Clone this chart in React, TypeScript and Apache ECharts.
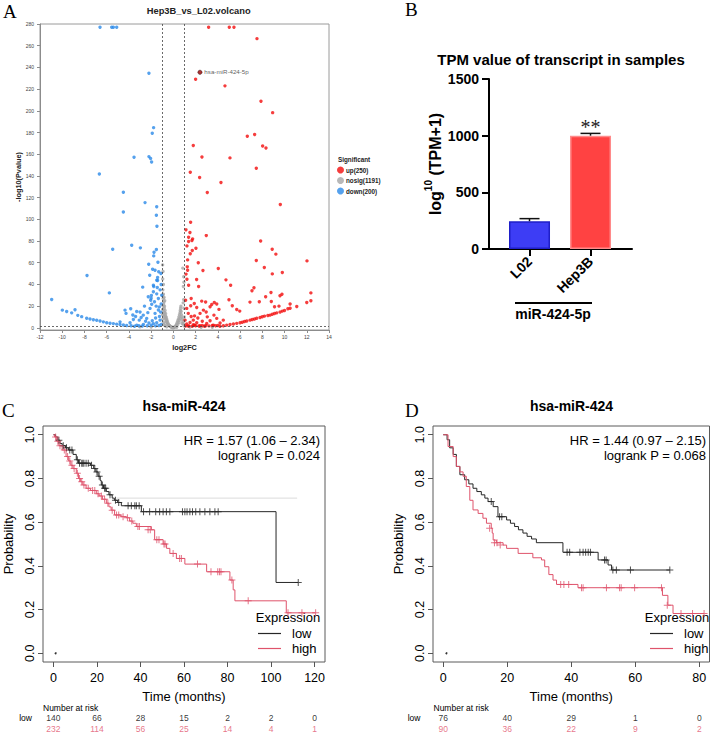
import React, { useEffect, useRef } from 'react';
import * as echarts from 'echarts';

const SANS = '"Liberation Sans", Arial, Helvetica, sans-serif';
const SERIF = '"Liberation Serif", "Times New Roman", serif';

// ---------- Panel A: volcano (log2FC vs -log10 P) ----------
const upCount = 250;
const nosigCount = 1191;
const downCount = 200;

const upPoints: number[][] = [
  [3.17, 277], [5.03, 277], [5.45, 277], [7.52, 266.5], [2.0, 229], [4.64, 223], [7.88, 208.8], [8.93, 198.3],
  [6.65, 176.5], [7.31, 178.1], [1.79, 168], [8.03, 167.6], [8.33, 165.8], [2.57, 157.5], [5.09, 156.6], [7.46, 147.1],
  [1.52, 143.4], [2.36, 138.5], [4.28, 133.9], [3.05, 124.7], [9.62, 113.6],
  [1.55, 97.3], [1.13, 90.3], [1.49, 87.8], [1.37, 83.5], [1.73, 82], [1.67, 80.4], [1.37, 79.5], [2.96, 85],
  [1.22, 75.5], [2.03, 73.4], [1.7, 71.2], [1.52, 68.2], [1.28, 62.6], [2.24, 59.9], [1.25, 56.2], [1.14, 49.5],
  [1.28, 53.1], [2.66, 52.8], [4.04, 54.7], [7.85, 80.1], [7.46, 62], [8.89, 72.5], [9.22, 67.9], [12.02, 61.7],
  [8.18, 55.6], [8.9, 49.7], [9.8, 51], [4.73, 44.2], [5.15, 39.3], [2.09, 44.5], [2.27, 38.1], [1.37, 39.3], [1.22, 44.8],
  [7.07, 34.1], [7.25, 36.9], [6.89, 23.7], [7.73, 24], [8.3, 28.6], [8.78, 32.6], [8.81, 24.3], [9.59, 29.5],
  [9.77, 31], [12.37, 32.2], [12.37, 25], [12.0, 23.4], [11.1, 19.7], [5.0, 25.8], [5.97, 15.4], [5.7, 16.9],
  [5.3, 20.3], [3.68, 23.4], [3.45, 21.5], [2.55, 24.6], [1.88, 22.5], [1.56, 20.3], [2.1, 18.8], [1.2, 17.9],
  [1.34, 13.3], [2.4, 13.3], [2.7, 16.3], [3.05, 10.1], [3.65, 11.7], [3.9, 8.7], [4.49, 7.1], [1.79, 7.1],
  [1.05, 7.1], [2.1, 4.6], [3.0, 4.0], [3.6, 2.5], [1.34, 1.6], [2.4, 1.9], [1.1, 25.5], [1.6, 27], [2.9, 23.8],
  [3.9, 22], [4.1, 17], [1.9, 11], [2.2, 9], [2.6, 6], [1.5, 5], [1.2, 3.5], [1.8, 2.8], [2.9, 2], [3.3, 6.5],
  [4.2, 4.5], [1.6, 10.5], [2.95, 14.6], [3.3, 19.5], [9.1, 19.5], [9.5, 20], [10.5, 22],
  [4.2, 1.5], [4.5, 2.0], [4.8, 2.5], [5.1, 3.0], [5.4, 3.6], [5.7, 4.1], [6.0, 4.6], [6.2, 5.2], [6.4, 5.8],
  [6.6, 6.3], [6.9, 7.1], [7.1, 7.6], [7.3, 8.2], [7.5, 8.8], [7.8, 9.6], [8.0, 10.2], [8.2, 10.8], [8.5, 11.4],
  [8.7, 11.7], [8.9, 12.5], [9.1, 13.2], [9.3, 13.8], [9.6, 14.5], [9.8, 15.4], [10.0, 16.0], [10.3, 17.5], [10.5, 18.0],
  [1.1, 1.6], [1.4, 1.8], [1.7, 1.5], [2.0, 2.0], [2.3, 1.7], [2.6, 2.2], [3.2, 1.8], [3.5, 2.1], [3.8, 1.9],
  [4.0, 2.2], [2.8, 1.5], [1.9, 2.4],
];

const downPoints: number[][] = [
  [-6.6, 277], [-5.55, 277], [-5.4, 277], [-5.1, 277], [-2.2, 234.6], [-1.78, 184.5], [-1.9, 179.3], [-3.54, 157.2],
  [-2.2, 157.8], [-2.05, 156], [-1.96, 152.9], [-6.66, 141.8], [-4.5, 125], [-2.55, 115.4], [-4.5, 106.8],
  [-1.5, 111.5], [-1.53, 103.8], [-1.48, 93.6],
  [-5.46, 72.5], [-3.75, 76.1], [-2.97, 73.7], [-1.53, 72.2], [-1.74, 69.7], [-1.77, 66.3], [-1.39, 60.5],
  [-2.22, 58.6], [-1.87, 54], [-2.13, 48.5], [-1.42, 46.4], [-7.77, 48.2], [-1.12, 50], [-1.42, 43.6],
  [-5.76, 32.2], [-10.95, 26.1], [-2.76, 37.5], [-1.98, 29.8], [-1.77, 38.1], [-2.0, 27.3], [-1.65, 53.1],
  [-1.32, 51.6], [-1.5, 43.9], [-1.8, 39.3], [-1.45, 37.2],
  [-4.35, 16.3], [-4.26, 13.3], [-3.84, 17.5], [-3.3, 15.1], [-3.0, 14.5], [-2.71, 11.7], [-2.26, 28.6],
  [-2.04, 25.5], [-1.95, 21.8], [-1.8, 33.2], [-1.5, 31.3], [-1.35, 27], [-2.1, 17.9], [-1.65, 13.3],
  [-1.27, 19.3], [-2.4, 8.7], [-3.07, 7.1], [-3.6, 7.7], [-3.9, 4.6], [-4.8, 5.5], [-1.5, 4.6], [-1.2, 7.1],
  [-1.8, 3.7], [-2.7, 3.1], [-3.3, 2.5], [-1.1, 22], [-1.25, 10.5], [-1.6, 9], [-1.9, 6.5], [-2.2, 4.5],
  [-2.5, 6], [-2.9, 9.5], [-3.4, 10.5], [-3.65, 11.8], [-1.15, 14.5], [-1.35, 16.5], [-1.55, 20], [-1.7, 24],
  [-1.1, 3.2], [-1.3, 2.2], [-1.6, 1.8], [-2.0, 2.3], [-2.35, 1.9], [-2.8, 1.6], [-3.1, 1.9], [-3.5, 1.5],
  [-3.8, 2.0], [-1.05, 30], [-1.2, 35], [-1.1, 40], [-2.3, 14], [-2.6, 20],
  [-4.2, 2.2], [-4.5, 2.6], [-4.8, 3.0], [-5.1, 3.4], [-5.4, 3.9], [-5.7, 4.3], [-6.0, 4.7], [-6.3, 5.5],
  [-6.6, 6.3], [-6.9, 6.9], [-7.2, 7.4], [-7.5, 8.1], [-7.8, 8.8], [-8.25, 10.3], [-8.6, 11.5], [-8.85, 16.6],
  [-9.15, 13.8], [-9.6, 15], [-9.99, 16.3],
];

const nosigPoints: number[][] = [
  [-0.95, 35], [-0.9, 31], [-0.92, 27], [-0.85, 24], [-0.88, 22], [-0.8, 20], [-0.82, 18], [-0.75, 16],
  [-0.78, 14], [-0.7, 13], [-0.72, 11], [-0.65, 10], [-0.68, 9], [-0.6, 8], [-0.62, 7], [-0.55, 6], [-0.58, 5],
  [-0.5, 4.5], [-0.52, 3.5], [-0.45, 3], [-0.4, 2.5], [-0.35, 2], [-0.3, 1.5], [-0.25, 1.2], [-0.2, 0.8],
  [-0.15, 0.5], [-0.1, 0.3], [-0.97, 30], [-0.93, 20], [-0.96, 17], [-0.9, 15], [-0.86, 12], [-0.8, 10],
  [-0.74, 8], [-0.66, 5.5], [-0.98, 12], [-0.95, 8], [-0.9, 5], [-0.85, 3], [-0.75, 2], [-0.6, 1],
  [-0.96, 45], [-0.93, 52], [-0.97, 58], [-0.9, 40], [-0.84, 28], [-0.78, 25],
  [0.1, 0.5], [0.15, 1], [0.2, 1.5], [0.25, 2.5], [0.3, 3.5], [0.35, 5], [0.4, 6.5], [0.45, 8], [0.5, 10],
  [0.55, 12], [0.6, 14], [0.62, 16], [0.65, 18], [0.7, 15], [0.72, 12], [0.75, 10], [0.8, 8], [0.85, 6],
  [0.9, 4], [0.95, 2], [0.68, 20], [0.6, 9], [0.5, 5], [0.4, 3], [0.55, 7], [0.92, 26], [0.88, 23],
  [0.95, 42], [0.9, 38], [0.93, 47], [0.85, 55], [0.95, 18], [0.98, 10], [0.78, 4], [0.3, 0.5], [0.05, 0.2],
  [0.0, 0.3], [-0.05, 0.1], [1.5, 0.8], [2.5, 0.6], [-2.0, 0.7], [-3.0, 0.9], [3.5, 0.5],
];

const highlightGene = { name: 'hsa-miR-424-5p', log2fc: 2.39, logp: 235.5 };
const volcanoYTicks = [0, 20, 40, 60, 80, 100, 120, 140, 160, 180, 200, 220, 240, 260, 280];
const fcCutoffs = [-1, 1];
const pCutoff = 1.3;

// ---------- Panel B: TPM bars ----------
const cellLines = ['L02', 'Hep3B'];
const tpmMeans = [245, 1000];
const tpmErrTop = [268, 1020];
const sigMarks = ['', '**'];
const barFill = ['#3d3df5', '#ff4242'];
const barEdge = ['#1f1fc8', '#ff8a8a'];

// ---------- Panels C & D: Kaplan-Meier ----------
const kmLowC: number[][] = [
  [0, 1.0], [1, 0.99], [2, 0.975], [3, 0.96], [4, 0.95], [5.5, 0.94], [7, 0.93], [9, 0.91], [10.5, 0.885],
  [11.5, 0.87], [17, 0.86], [18.5, 0.845], [19.5, 0.83], [20.5, 0.81], [21.5, 0.79], [22, 0.77], [23, 0.755],
  [24.3, 0.74], [25.5, 0.725], [27, 0.71], [28, 0.7], [29.5, 0.69], [31.2, 0.675], [40.4, 0.648],
  [102.3, 0.324], [112.5, 0.324],
];
const kmLowCensC: number[][] = [
  [2.5, 0.975], [4.5, 0.95], [6, 0.94], [7.5, 0.93], [8.5, 0.93], [11, 0.885], [12, 0.87], [13, 0.87],
  [13.5, 0.87], [14, 0.87], [15, 0.87], [16, 0.87], [17.5, 0.86], [19, 0.845], [20, 0.83], [21, 0.81],
  [22.5, 0.77], [23.5, 0.755], [24, 0.755], [26, 0.725], [28.5, 0.7], [30, 0.69], [34.3, 0.675], [35.8, 0.675],
  [37.4, 0.675], [38.1, 0.675], [39.4, 0.675], [41.4, 0.648], [44.2, 0.648], [47, 0.648], [48.8, 0.648],
  [50.4, 0.648], [51.9, 0.648], [53.5, 0.648], [59.3, 0.648], [60.4, 0.648], [61.4, 0.648], [62.7, 0.648],
  [63.9, 0.648], [65.4, 0.648], [67.3, 0.648], [69.6, 0.648], [71.9, 0.648], [74.2, 0.648], [75.7, 0.648],
  [112.5, 0.324],
];
const kmHighC: number[][] = [
  [0, 1.0], [0.5, 0.99], [1.5, 0.97], [2.5, 0.95], [4, 0.93], [5.8, 0.9], [7, 0.88], [8, 0.86], [9, 0.845],
  [10.5, 0.824], [11.5, 0.8], [12.5, 0.785], [13.5, 0.77], [15, 0.755], [17, 0.745], [19.7, 0.73], [21, 0.72],
  [22.5, 0.705], [24.3, 0.687], [25.5, 0.67], [26.5, 0.655], [28.1, 0.633], [31, 0.625], [33.5, 0.62],
  [35, 0.605], [36.5, 0.595], [38.1, 0.58], [45, 0.565], [46.5, 0.52], [50.4, 0.5], [52, 0.48], [53.5, 0.457],
  [56.5, 0.434], [60.4, 0.408], [70.4, 0.373], [81.1, 0.335], [82.6, 0.29], [83.4, 0.24], [107, 0.185],
  [120.5, 0.185],
];
const kmHighCensC: number[][] = [
  [1, 0.99], [2, 0.97], [3, 0.95], [5, 0.93], [6.5, 0.9], [7.5, 0.88], [8.5, 0.86], [9.5, 0.845], [11, 0.824],
  [12, 0.8], [13, 0.785], [14, 0.77], [16, 0.755], [18, 0.745], [19, 0.745], [20.5, 0.73], [22, 0.72],
  [23.5, 0.705], [25, 0.687], [27, 0.655], [29, 0.633], [30, 0.633], [32, 0.625], [34, 0.62], [36, 0.605],
  [38.8, 0.58], [39.5, 0.58], [43.5, 0.565], [44.5, 0.565], [47.5, 0.52], [48.5, 0.52], [50.8, 0.5], [51.3, 0.5],
  [55, 0.457], [58, 0.434], [58.8, 0.434], [66.2, 0.408], [72.4, 0.373], [75.5, 0.373], [76.3, 0.373],
  [77, 0.373], [82, 0.335], [89.5, 0.24], [107.8, 0.185], [114.2, 0.185], [120.5, 0.185],
];
const faintLineC: number[][] = [[29, 0.71], [112, 0.71]];

const kmLowD: number[][] = [
  [0, 1.0], [1.2, 0.977], [2, 0.94], [3.1, 0.91], [4.1, 0.855], [5.2, 0.817], [6.7, 0.794], [8, 0.775],
  [9.3, 0.755], [10.5, 0.74], [11.9, 0.725], [13, 0.71], [14, 0.694], [15.6, 0.671], [17.1, 0.625], [19.8, 0.61],
  [21, 0.595], [22.3, 0.58], [23.5, 0.565], [24.9, 0.55], [26.2, 0.535], [27.6, 0.523], [29.1, 0.506],
  [37.4, 0.462], [48.4, 0.427], [51.5, 0.404], [52.6, 0.381], [70.8, 0.381],
];
const kmLowCensD: number[][] = [
  [15, 0.694], [17.6, 0.625], [18.3, 0.625], [38.7, 0.462], [39.5, 0.462], [42.7, 0.462], [43.7, 0.462],
  [44.5, 0.462], [45.3, 0.462], [46, 0.462], [50.4, 0.427], [50.9, 0.427], [53, 0.381], [54.1, 0.381],
  [58.5, 0.381], [70.8, 0.381],
];
const kmHighD: number[][] = [
  [0, 1.0], [1.5, 0.946], [3.1, 0.9], [4.1, 0.855], [5.2, 0.83], [6.2, 0.81], [7.2, 0.763], [8.3, 0.7],
  [9.3, 0.656], [10.9, 0.64], [12.4, 0.618], [13.5, 0.595], [15, 0.572], [15.3, 0.55], [15.6, 0.518],
  [16.6, 0.506], [18.7, 0.495], [19.8, 0.48], [23.4, 0.457], [28, 0.437], [30.7, 0.427], [31.7, 0.396],
  [33, 0.36], [34.3, 0.335], [35.4, 0.315], [42.1, 0.3], [68.5, 0.265], [70.2, 0.22], [71.8, 0.182],
  [81.5, 0.182],
];
const kmHighCensD: number[][] = [
  [14.5, 0.572], [16, 0.506], [16.8, 0.506], [17.8, 0.495], [36.7, 0.315], [37.7, 0.315], [39.2, 0.315],
  [43.2, 0.3], [43.7, 0.3], [51, 0.3], [55.1, 0.3], [55.6, 0.3], [59.8, 0.3], [68.2, 0.3], [70, 0.22],
  [74.3, 0.182], [77.9, 0.182], [81.5, 0.182],
];

const kmYTicks = [0, 0.2, 0.4, 0.6, 0.8, 1.0];
const kmXTicksC = [0, 20, 40, 60, 80, 100, 120];
const kmXTicksD = [0, 20, 40, 60, 80];

const riskTimesC = [0, 20, 40, 60, 80, 100, 120];
const riskLowC = [140, 66, 28, 15, 2, 2, 0];
const riskHighC = [232, 114, 56, 25, 14, 4, 1];
const riskTimesD = [0, 20, 40, 60, 80];
const riskLowD = [76, 40, 29, 1, 0];
const riskHighD = [90, 36, 22, 9, 2];

const hrTextC = ['HR = 1.57 (1.06 – 2.34)', 'logrank P = 0.024'];
const hrTextD = ['HR = 1.44 (0.97 – 2.15)', 'logrank P = 0.068'];

const LOW_COLOR = '#262626';
const HIGH_COLOR = '#DF536B';
const PLUS = 'path://M3,0H4V3H7V4H4V7H3V4H0V3H3Z';

function txt(x: number, y: number, text: string, o: any = {}) {
  const align = o.align || 'left';
  const va = o.verticalAlign || 'middle';
  return {
    type: 'text',
    x,
    y,
    rotation: o.rotation || 0,
    silent: true,
    style: {
      text,
      fill: o.fill || '#000',
      fontSize: o.fontSize || 12,
      fontWeight: o.fontWeight || 'normal',
      fontFamily: o.fontFamily || SANS,
      align,
      verticalAlign: va,
      textAlign: align,
      textVerticalAlign: va,
    },
  };
}

function kmAxisX(gridIndex: number, max: number, min: number, ticks: number[]) {
  return {
    gridIndex,
    type: 'value',
    min,
    max,
    axisLine: { show: false, onZero: false },
    axisTick: { show: true, length: 5, customValues: ticks, lineStyle: { color: '#555' } },
    axisLabel: { customValues: ticks, fontSize: 12.5, color: '#000', margin: 9, fontFamily: SANS },
    splitLine: { show: false },
    name: 'Time (months)',
    nameLocation: 'middle',
    nameGap: 28,
    nameTextStyle: { fontSize: 13, color: '#000', fontFamily: SANS },
  };
}

function kmAxisY(gridIndex: number) {
  return {
    gridIndex,
    type: 'value',
    min: -0.04,
    max: 1.04,
    axisLine: { show: false, onZero: false },
    axisTick: { show: true, length: 5, customValues: kmYTicks, lineStyle: { color: '#555' } },
    axisLabel: {
      customValues: kmYTicks,
      rotate: 90,
      fontSize: 12.5,
      color: '#000',
      margin: 7,
      fontFamily: SANS,
      formatter: (v: number) => v.toFixed(1),
    },
    splitLine: { show: false },
    name: 'Probability',
    nameLocation: 'middle',
    nameRotate: 90,
    nameGap: 28,
    nameTextStyle: { fontSize: 13, color: '#000', fontFamily: SANS },
  };
}

function riskAxisY(gridIndex: number, margin: number) {
  return {
    gridIndex,
    type: 'category',
    data: ['low', 'high'],
    inverse: true,
    axisLine: { show: false, onZero: false },
    axisTick: { show: false },
    axisLabel: {
      margin,
      formatter: (v: string) => (v === 'low' ? '{lo|low}' : '{hi|high}'),
      rich: {
        lo: { color: '#000', fontSize: 8.5, fontFamily: SANS },
        hi: { color: HIGH_COLOR, fontSize: 8.5, fontFamily: SANS },
      },
    },
  };
}

function kmSeries(name: string, color: string, steps: number[][], cens: number[][], axis: number) {
  return [
    {
      type: 'line',
      name,
      xAxisIndex: axis,
      yAxisIndex: axis,
      data: steps,
      step: 'end',
      symbol: 'none',
      showSymbol: false,
      color,
      lineStyle: { width: 1, color },
      z: 3,
    },
    {
      type: 'scatter',
      name: name + ' censored',
      xAxisIndex: axis,
      yAxisIndex: axis,
      data: cens,
      symbol: PLUS,
      symbolSize: 7,
      itemStyle: { color },
      z: 4,
    },
  ];
}

function riskSeries(axis: number, times: number[], low: number[], high: number[]) {
  const mk = (row: string, vals: number[], color: string) => ({
    type: 'scatter',
    name: 'risk ' + row,
    xAxisIndex: axis,
    yAxisIndex: axis,
    symbolSize: 1,
    itemStyle: { color: 'transparent' },
    data: times.map((t, i) => [t, row, vals[i]]),
    label: {
      show: true,
      position: 'inside',
      color,
      fontSize: 8.5,
      fontFamily: SANS,
      formatter: (p: any) => String(p.value[2]),
    },
  });
  return [mk('low', low, '#000'), mk('high', high, HIGH_COLOR)];
}

function buildOption(): any {
  const grid = [
    { left: 40, top: 24, width: 289, height: 306, show: true, borderColor: '#9a9a9a', borderWidth: 1 },
    { left: 489, top: 79, width: 143, height: 170 },
    { left: 43, top: 426, width: 282, height: 236, show: true, borderColor: '#5a5a5a', borderWidth: 1 },
    { left: 433, top: 426, width: 276.5, height: 236, show: true, borderColor: '#5a5a5a', borderWidth: 1 },
    { left: 43, top: 712, width: 282, height: 22 },
    { left: 433, top: 712, width: 276.5, height: 22 },
  ];

  const xAxis = [
    {
      gridIndex: 0,
      type: 'value',
      min: -12,
      max: 14,
      interval: 2,
      axisLine: { show: true, onZero: false, lineStyle: { color: '#8c8c8c' } },
      axisTick: { show: true, length: 3, lineStyle: { color: '#8c8c8c' } },
      axisLabel: { fontSize: 5, color: '#444', margin: 4, fontFamily: SANS },
      splitLine: { show: false },
      name: 'log2FC',
      nameLocation: 'middle',
      nameGap: 14,
      nameTextStyle: { fontSize: 7.3, fontWeight: 'bold', color: '#222', fontFamily: SANS },
    },
    {
      gridIndex: 1,
      type: 'value',
      min: -0.664,
      max: 1.68,
      axisLine: { show: true, onZero: false, lineStyle: { color: '#000', width: 2 } },
      axisTick: { show: true, length: 7, customValues: [0, 1], lineStyle: { color: '#000', width: 2 } },
      axisLabel: {
        customValues: [0, 1],
        rotate: 45,
        margin: 10,
        fontSize: 14,
        fontWeight: 'bold',
        color: '#000',
        fontFamily: SANS,
        formatter: (v: number) => cellLines[Math.round(v)] || '',
      },
      splitLine: { show: false },
    },
    kmAxisX(2, 124.8, -4.8, kmXTicksC),
    kmAxisX(3, 83.2, -3.2, kmXTicksD),
    { gridIndex: 4, type: 'value', min: -4.8, max: 124.8, show: false },
    { gridIndex: 5, type: 'value', min: -3.2, max: 83.2, show: false },
  ];

  const yAxis = [
    {
      gridIndex: 0,
      type: 'value',
      min: -2,
      max: 280,
      axisLine: { show: true, onZero: false, lineStyle: { color: '#8c8c8c' } },
      axisTick: { show: true, length: 3, customValues: volcanoYTicks, lineStyle: { color: '#8c8c8c' } },
      axisLabel: { customValues: volcanoYTicks, fontSize: 5, color: '#444', margin: 6, fontFamily: SANS },
      splitLine: { show: false },
      name: '-log10(Pvalue)',
      nameLocation: 'middle',
      nameRotate: 90,
      nameGap: 16,
      nameTextStyle: { fontSize: 7.3, fontWeight: 'bold', color: '#222', fontFamily: SANS },
    },
    {
      gridIndex: 1,
      type: 'value',
      min: 0,
      max: 1500,
      interval: 500,
      axisLine: { show: true, onZero: false, lineStyle: { color: '#000', width: 2 } },
      axisTick: { show: true, length: 7, lineStyle: { color: '#000', width: 2 } },
      axisLabel: {
        fontSize: 14,
        fontWeight: 'bold',
        color: '#000',
        margin: 10,
        fontFamily: SANS,
        formatter: (v: number) => String(v),
      },
      splitLine: { show: false },
      name: '{a|log}{s|10}{a| (TPM+1)}',
      nameLocation: 'middle',
      nameRotate: 90,
      nameGap: 40,
      nameTextStyle: {
        rich: {
          a: { fontSize: 16, fontWeight: 'bold', color: '#000', fontFamily: SANS, lineHeight: 20, verticalAlign: 'bottom' },
          s: { fontSize: 10, fontWeight: 'bold', color: '#000', fontFamily: SANS, lineHeight: 20, verticalAlign: 'top' },
        },
      },
    },
    kmAxisY(2),
    kmAxisY(3),
    riskAxisY(4, 11),
    riskAxisY(5, 12.5),
  ];

  const volcanoBase = { type: 'scatter', xAxisIndex: 0, yAxisIndex: 0, symbolSize: 3.4 };

  const series: any[] = [
    {
      ...volcanoBase,
      name: `nosig(${nosigCount})`,
      data: nosigPoints,
      itemStyle: { color: '#a6a6a6' },
      markLine: {
        silent: true,
        symbol: 'none',
        label: { show: false },
        lineStyle: { type: [2, 2], color: '#444', width: 0.8 },
        data: [...fcCutoffs.map((v) => ({ xAxis: v })), { yAxis: pCutoff }],
      },
    },
    { ...volcanoBase, name: `up(${upCount})`, data: upPoints, itemStyle: { color: '#f20d0d' } },
    { ...volcanoBase, name: `down(${downCount})`, data: downPoints, itemStyle: { color: '#2a8ae8' } },
    {
      type: 'scatter',
      name: highlightGene.name,
      xAxisIndex: 0,
      yAxisIndex: 0,
      symbolSize: 4.2,
      z: 5,
      data: [{ name: highlightGene.name, value: [highlightGene.log2fc, highlightGene.logp] }],
      itemStyle: { color: '#9a0000', borderColor: '#2a0000', borderWidth: 0.6 },
      label: {
        show: true,
        position: 'right',
        distance: 2,
        offset: [0, -1],
        formatter: '{b}',
        fontSize: 6.2,
        color: '#333',
        fontFamily: SANS,
      },
    },
    {
      type: 'bar',
      name: 'TPM',
      xAxisIndex: 1,
      yAxisIndex: 1,
      barWidth: 41,
      data: cellLines.map((c, i) => ({
        name: c,
        value: [i, tpmMeans[i]],
        itemStyle: { color: barFill[i], borderColor: barEdge[i], borderWidth: 1.5 },
      })),
    },
    {
      type: 'custom',
      name: 'SEM',
      xAxisIndex: 1,
      yAxisIndex: 1,
      z: 4,
      data: cellLines.map((_, i) => [i, tpmMeans[i], tpmErrTop[i], i]),
      renderItem: (_params: any, api: any) => {
        const x = api.value(0);
        const base = api.coord([x, api.value(1)]);
        const top = api.coord([x, api.value(2)]);
        const idx = api.value(3);
        const stroke = '#111';
        return {
          type: 'group',
          children: [
            { type: 'line', shape: { x1: base[0], y1: base[1], x2: top[0], y2: top[1] }, style: { stroke, lineWidth: 1.5 } },
            { type: 'line', shape: { x1: top[0] - 10, y1: top[1], x2: top[0] + 10, y2: top[1] }, style: { stroke, lineWidth: 1.5 } },
            {
              type: 'text',
              x: top[0],
              y: top[1] + 4,
              style: {
                text: sigMarks[idx],
                fontSize: 20,
                fontFamily: SERIF,
                fill: '#222',
                align: 'center',
                verticalAlign: 'bottom',
                textAlign: 'center',
                textVerticalAlign: 'bottom',
              },
            },
          ],
        };
      },
    },
    {
      type: 'line',
      name: 'plateau',
      xAxisIndex: 2,
      yAxisIndex: 2,
      data: faintLineC,
      symbol: 'none',
      lineStyle: { width: 1, color: '#dcdcdc' },
      z: 2,
    },
    ...kmSeries('low', LOW_COLOR, kmLowC, kmLowCensC, 2),
    ...kmSeries('high', HIGH_COLOR, kmHighC, kmHighCensC, 2),
    ...kmSeries('low', LOW_COLOR, kmLowD, kmLowCensD, 3),
    ...kmSeries('high', HIGH_COLOR, kmHighD, kmHighCensD, 3),
    { type: 'scatter', name: 'start C', xAxisIndex: 2, yAxisIndex: 2, data: [[1, 0]], symbolSize: 2, itemStyle: { color: '#000' } },
    { type: 'scatter', name: 'start D', xAxisIndex: 3, yAxisIndex: 3, data: [[1, 0]], symbolSize: 2, itemStyle: { color: '#000' } },
    ...riskSeries(4, riskTimesC, riskLowC, riskHighC),
    ...riskSeries(5, riskTimesD, riskLowD, riskHighD),
  ];

  const kmLegend = (left: number) => ({
    data: ['low', 'high'],
    left,
    top: 627,
    orient: 'vertical',
    icon: 'rect',
    itemWidth: 23,
    itemHeight: 1.2,
    itemGap: 2,
    selectedMode: false,
    padding: 0,
    textStyle: { fontSize: 13, color: '#000', fontFamily: SANS, lineHeight: 13, padding: [0, 0, 0, 6] },
  });

  const legend = [
    {
      data: [`up(${upCount})`, `nosig(${nosigCount})`, `down(${downCount})`],
      left: 337,
      top: 166.5,
      orient: 'vertical',
      icon: 'circle',
      itemWidth: 7,
      itemHeight: 7,
      itemGap: 3.5,
      padding: 0,
      selectedMode: false,
      textStyle: { fontSize: 6.3, fontWeight: 'bold', color: '#222', fontFamily: SANS, padding: [0, 0, 0, -3] },
    },
    kmLegend(258),
    kmLegend(650),
  ];

  const graphic = [
    txt(3, 11, 'A', { fontSize: 19, fontFamily: SERIF }),
    txt(405, 9, 'B', { fontSize: 19, fontFamily: SERIF }),
    txt(2, 410, 'C', { fontSize: 19, fontFamily: SERIF }),
    txt(405, 410, 'D', { fontSize: 19, fontFamily: SERIF }),
    txt(198.7, 11, 'Hep3B_vs_L02.volcano', { align: 'center', fontSize: 9.3, fontWeight: 'bold', fill: '#222' }),
    txt(338, 159.3, 'Significant', { fontSize: 6.3, fontWeight: 'bold', fill: '#222' }),
    txt(561, 59, 'TPM value of transcript in samples', { align: 'center', fontSize: 15, fontWeight: 'bold' }),
    { type: 'line', silent: true, shape: { x1: 515, y1: 303, x2: 592, y2: 303 }, style: { stroke: '#000', lineWidth: 2 } },
    txt(553, 314, 'miR-424-5p', { align: 'center', fontSize: 14, fontWeight: 'bold' }),
    txt(184, 406, 'hsa-miR-424', { align: 'center', fontSize: 14, fontWeight: 'bold' }),
    txt(571.5, 406, 'hsa-miR-424', { align: 'center', fontSize: 14, fontWeight: 'bold' }),
    txt(320, 440, hrTextC[0], { align: 'right', fontSize: 13 }),
    txt(320, 455, hrTextC[1], { align: 'right', fontSize: 13 }),
    txt(706, 440, hrTextD[0], { align: 'right', fontSize: 13 }),
    txt(706, 455, hrTextD[1], { align: 'right', fontSize: 13 }),
    txt(288, 617, 'Expression', { align: 'center', fontSize: 13 }),
    txt(677, 617, 'Expression', { align: 'center', fontSize: 13 }),
    txt(43, 708, 'Number at risk', { fontSize: 8.5 }),
    txt(433.5, 708, 'Number at risk', { fontSize: 8.5 }),
  ];

  return {
    animation: false,
    backgroundColor: '#fff',
    textStyle: { fontFamily: SANS },
    grid,
    xAxis,
    yAxis,
    series,
    legend,
    graphic,
  };
}

export default function App() {
  const ref = useRef<HTMLDivElement>(null);
  useEffect(() => {
    if (!ref.current) return;
    const chart = echarts.init(ref.current, undefined, { renderer: 'svg' });
    chart.setOption(buildOption());
    return () => {
      chart.dispose();
    };
  }, []);
  return (
    <div
      ref={ref}
      style={{ position: 'fixed', left: 0, top: 0, width: 717, height: 735, background: '#fff' }}
    />
  );
}
